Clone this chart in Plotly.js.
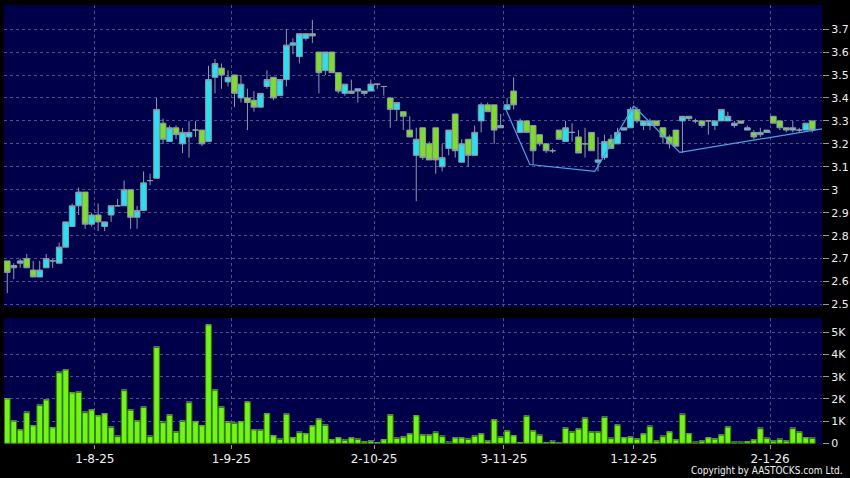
<!DOCTYPE html>
<html><head><meta charset="utf-8">
<script src="https://cdn.plot.ly/plotly-3.0.1.min.js"></script>
<style>html,body{margin:0;padding:0;background:#000;}#chart{width:850px;height:478px;}</style>
</head><body><div id="chart"></div>
<script>
// Trading calendar (HK): first session and market holidays in the window
const firstDate = '2025-07-15';
const holidays = ['2025-10-01','2025-10-07','2025-10-29','2025-12-25','2025-12-26','2026-01-01'];

const open = [2.69,2.66,2.68,2.70,2.65,2.62,2.66,2.69,2.68,2.75,
2.84,2.93,2.99,2.85,2.89,2.84,2.89,2.93,2.93,3.00,
2.88,2.91,3.04,3.05,3.29,3.21,3.27,3.20,3.23,3.26,
3.26,3.21,3.49,3.53,3.47,3.50,3.40,3.40,3.39,3.36,
3.45,3.49,3.41,3.48,3.63,3.58,3.66,3.68,3.60,3.52,
3.60,3.51,3.42,3.43,3.43,3.43,3.43,3.46,3.45,3.40,
3.35,3.34,3.26,3.15,3.27,3.20,3.27,3.10,3.18,3.33,
3.12,3.22,3.15,3.30,3.37,3.37,3.27,3.35,3.43,3.25,
3.30,3.28,3.24,3.20,3.17,3.26,3.21,3.25,3.23,3.20,
3.25,3.12,3.14,3.22,3.20,3.26,3.27,3.35,3.28,3.28,
3.30,3.27,3.23,3.26,3.30,3.32,3.30,3.30,3.30,3.28,
3.30,3.30,3.28,3.30,3.26,3.25,3.24,3.25,3.32,3.30,
3.27,3.26,3.26,3.26,3.30];
const high = [2.69,2.68,2.70,2.72,2.69,2.69,2.72,2.70,2.77,2.86,
2.94,3.01,2.99,2.90,2.94,2.86,2.93,2.96,3.04,3.00,
2.93,3.08,3.07,3.40,3.31,3.28,3.28,3.27,3.30,3.30,
3.26,3.54,3.57,3.55,3.52,3.50,3.50,3.44,3.43,3.42,
3.52,3.49,3.48,3.70,3.66,3.68,3.68,3.74,3.60,3.60,
3.60,3.51,3.46,3.48,3.44,3.43,3.48,3.46,3.45,3.40,
3.38,3.34,3.32,3.27,3.27,3.21,3.27,3.20,3.26,3.33,
3.22,3.22,3.28,3.38,3.38,3.37,3.33,3.40,3.49,3.31,
3.30,3.28,3.24,3.20,3.18,3.26,3.30,3.29,3.26,3.27,
3.25,3.23,3.24,3.24,3.27,3.27,3.36,3.36,3.30,3.31,
3.30,3.27,3.24,3.26,3.32,3.32,3.31,3.30,3.30,3.30,
3.35,3.34,3.30,3.30,3.28,3.26,3.27,3.26,3.32,3.30,
3.27,3.30,3.27,3.29,3.30];
const low = [2.55,2.61,2.66,2.66,2.62,2.62,2.66,2.66,2.68,2.75,
2.84,2.89,2.83,2.84,2.82,2.82,2.86,2.93,2.93,2.83,
2.83,2.91,3.02,3.05,3.20,3.21,3.22,3.16,3.14,3.23,
3.19,3.21,3.42,3.44,3.45,3.36,3.38,3.26,3.34,3.36,
3.44,3.39,3.41,3.45,3.59,3.55,3.65,3.64,3.42,3.50,
3.51,3.42,3.41,3.42,3.38,3.41,3.43,3.44,3.41,3.27,
3.30,3.26,3.23,2.95,3.13,3.13,3.07,3.08,3.15,3.14,
3.12,3.10,3.15,3.25,3.34,3.20,3.27,3.35,3.35,3.25,
3.25,3.11,3.19,3.16,3.16,3.22,3.21,3.21,3.16,3.14,
3.17,3.08,3.13,3.18,3.20,3.26,3.27,3.29,3.26,3.26,
3.28,3.20,3.18,3.19,3.16,3.30,3.29,3.27,3.24,3.26,
3.30,3.30,3.27,3.29,3.26,3.22,3.23,3.25,3.29,3.26,
3.25,3.25,3.25,3.26,3.25];
const close = [2.64,2.67,2.69,2.66,2.62,2.65,2.70,2.69,2.75,2.86,
2.93,2.99,2.85,2.89,2.86,2.86,2.93,2.93,3.00,2.88,
2.91,3.03,3.04,3.35,3.22,3.27,3.24,3.25,3.25,3.26,
3.20,3.48,3.55,3.50,3.49,3.42,3.46,3.38,3.36,3.42,
3.48,3.40,3.48,3.63,3.64,3.68,3.68,3.67,3.51,3.60,
3.51,3.43,3.46,3.42,3.44,3.42,3.46,3.46,3.45,3.35,
3.38,3.32,3.23,3.22,3.14,3.13,3.13,3.14,3.26,3.17,
3.20,3.15,3.25,3.37,3.34,3.26,3.28,3.37,3.37,3.30,
3.25,3.17,3.20,3.17,3.17,3.22,3.27,3.25,3.16,3.20,
3.17,3.13,3.21,3.18,3.25,3.27,3.35,3.30,3.30,3.30,
3.28,3.23,3.20,3.19,3.32,3.31,3.30,3.28,3.30,3.30,
3.35,3.32,3.29,3.29,3.27,3.23,3.25,3.26,3.29,3.27,
3.26,3.27,3.26,3.29,3.26];
const volume = [2000,1000,600,1380,790,1710,1950,700,3180,3300,
2270,2300,1380,1500,1230,1330,720,300,2370,1490,
1000,1620,300,4320,930,1270,500,990,1830,970,
790,5330,2390,1620,950,900,970,1860,600,590,
1330,340,180,1310,250,480,430,780,1090,810,
160,250,140,240,180,60,100,20,160,1270,
220,280,420,1240,370,370,480,300,30,240,
240,180,320,420,100,1050,270,550,340,20,
1220,550,360,20,80,10,680,500,640,1130,
500,500,1170,210,820,250,280,190,420,750,
100,300,510,150,1290,430,30,100,250,190,
370,730,40,30,70,150,660,220,100,180,
100,660,500,250,220];

// Zigzag overlay (position in trading-day slots, price)
const zigzagPos = [76.5, 80.5, 90.5, 96.5, 103.6, 125.5];
const zigzagVal = [3.37, 3.11, 3.08, 3.365, 3.163, 3.265];

const tickDates = ['2025-08-01','2025-09-01','2025-10-02','2025-11-03','2025-12-01','2026-01-02'];
const tickLabels = ['1-8-25','1-9-25','2-10-25','3-11-25','1-12-25','2-1-26'];
const priceTickVals = [2.5,2.6,2.7,2.8,2.9,3.0,3.1,3.2,3.3,3.4,3.5,3.6,3.7];
const priceTickText = ['2.5','2.6','2.7','2.8','2.9','3','3.1','3.2','3.3','3.4','3.5','3.6','3.7'];
const volTickVals = [0,1000,2000,3000,4000,5000];
const volTickText = ['0','1K','2K','3K','4K','5K'];

function tradingDays(start, n, hol) {
  const out = []; const d = new Date(start + 'T00:00:00Z');
  while (out.length < n) {
    const s = d.toISOString().slice(0,10); const w = d.getUTCDay();
    if (w !== 0 && w !== 6 && hol.indexOf(s) < 0) out.push(s);
    d.setUTCDate(d.getUTCDate() + 1);
  }
  return out;
}
const dates = tradingDays(firstDate, open.length, holidays);
const xIdx = dates.map((_, i) => i);
const tickVals = tickDates.map(d => dates.indexOf(d) + 0.5);

const gridCol = '#50508f';
const wick = '#8d9cab';

const traces = [
  {type:'candlestick', x:xIdx, open:open, high:high, low:low, close:close, text:dates,
   xaxis:'x', yaxis:'y', whiskerwidth:0, hoverinfo:'x+text',
   increasing:{line:{color:wick, width:1}, fillcolor:'#22e3f2'},
   decreasing:{line:{color:wick, width:1}, fillcolor:'#7ee01c'}},
  {type:'scatter', mode:'lines', x:zigzagPos, y:zigzagVal, xaxis:'x', yaxis:'y',
   line:{color:'#47a6e6', width:1.2}, hoverinfo:'skip'},
  {type:'bar', x:xIdx, y:volume, xaxis:'x2', yaxis:'y2', text:dates, hoverinfo:'y+text',
   marker:{color:'#72f510', line:{color:'#2f7d00', width:1}}}
];

const axisCommon = {showgrid:true, gridcolor:gridCol, gridwidth:1, griddash:'3px,3px',
  zeroline:false, showline:false, fixedrange:true};

const layout = {
  width:850, height:478,
  paper_bgcolor:'#000000', plot_bgcolor:'#00004a',
  margin:{l:4, r:28, t:5, b:34},
  showlegend:false,
  boxgap:0.12, boxgroupgap:0, bargap:0.12,
  font:{family:'DejaVu Sans, Verdana, sans-serif', color:'#f0f0f0', size:11},
  xaxis:Object.assign({}, axisCommon, {domain:[0,1], anchor:'y', range:[-0.5,125.5],
    rangeslider:{visible:false}, tickmode:'array', tickvals:tickVals, ticktext:tickLabels,
    showticklabels:false, ticks:''}),
  xaxis2:Object.assign({}, axisCommon, {domain:[0,1], anchor:'y2', range:[-0.5,125.5],
    tickmode:'array', tickvals:tickVals, ticktext:tickLabels, ticks:'outside', ticklen:4,
    tickcolor:'#9a9a9a', tickfont:{size:12, color:'#f0f0f0'}}),
  yaxis:Object.assign({}, axisCommon, {domain:[0.312,1], anchor:'x', side:'right',
    range:[2.489,3.805], tickmode:'array', tickvals:priceTickVals, ticktext:priceTickText,
    ticks:'outside', ticklen:6, tickcolor:'#9a9a9a', tickfont:{size:11, color:'#f0f0f0'}}),
  yaxis2:Object.assign({}, axisCommon, {domain:[0,0.287], anchor:'x2', side:'right',
    range:[-30,5640], tickmode:'array', tickvals:volTickVals, ticktext:volTickText,
    ticks:'outside', ticklen:6, tickcolor:'#9a9a9a', tickfont:{size:11, color:'#f0f0f0'}}),
  annotations:[{xref:'paper', yref:'paper', x:1.028, y:-0.0615, xanchor:'right', yanchor:'middle',
    text:'Copyright by AASTOCKS.com Ltd.', showarrow:false,
    font:{family:'DejaVu Sans Condensed, DejaVu Sans, sans-serif', size:10, color:'#f0f0f0'}}]
};

Plotly.newPlot('chart', traces, layout, {displayModeBar:false, staticPlot:true});
</script>
</body></html>
